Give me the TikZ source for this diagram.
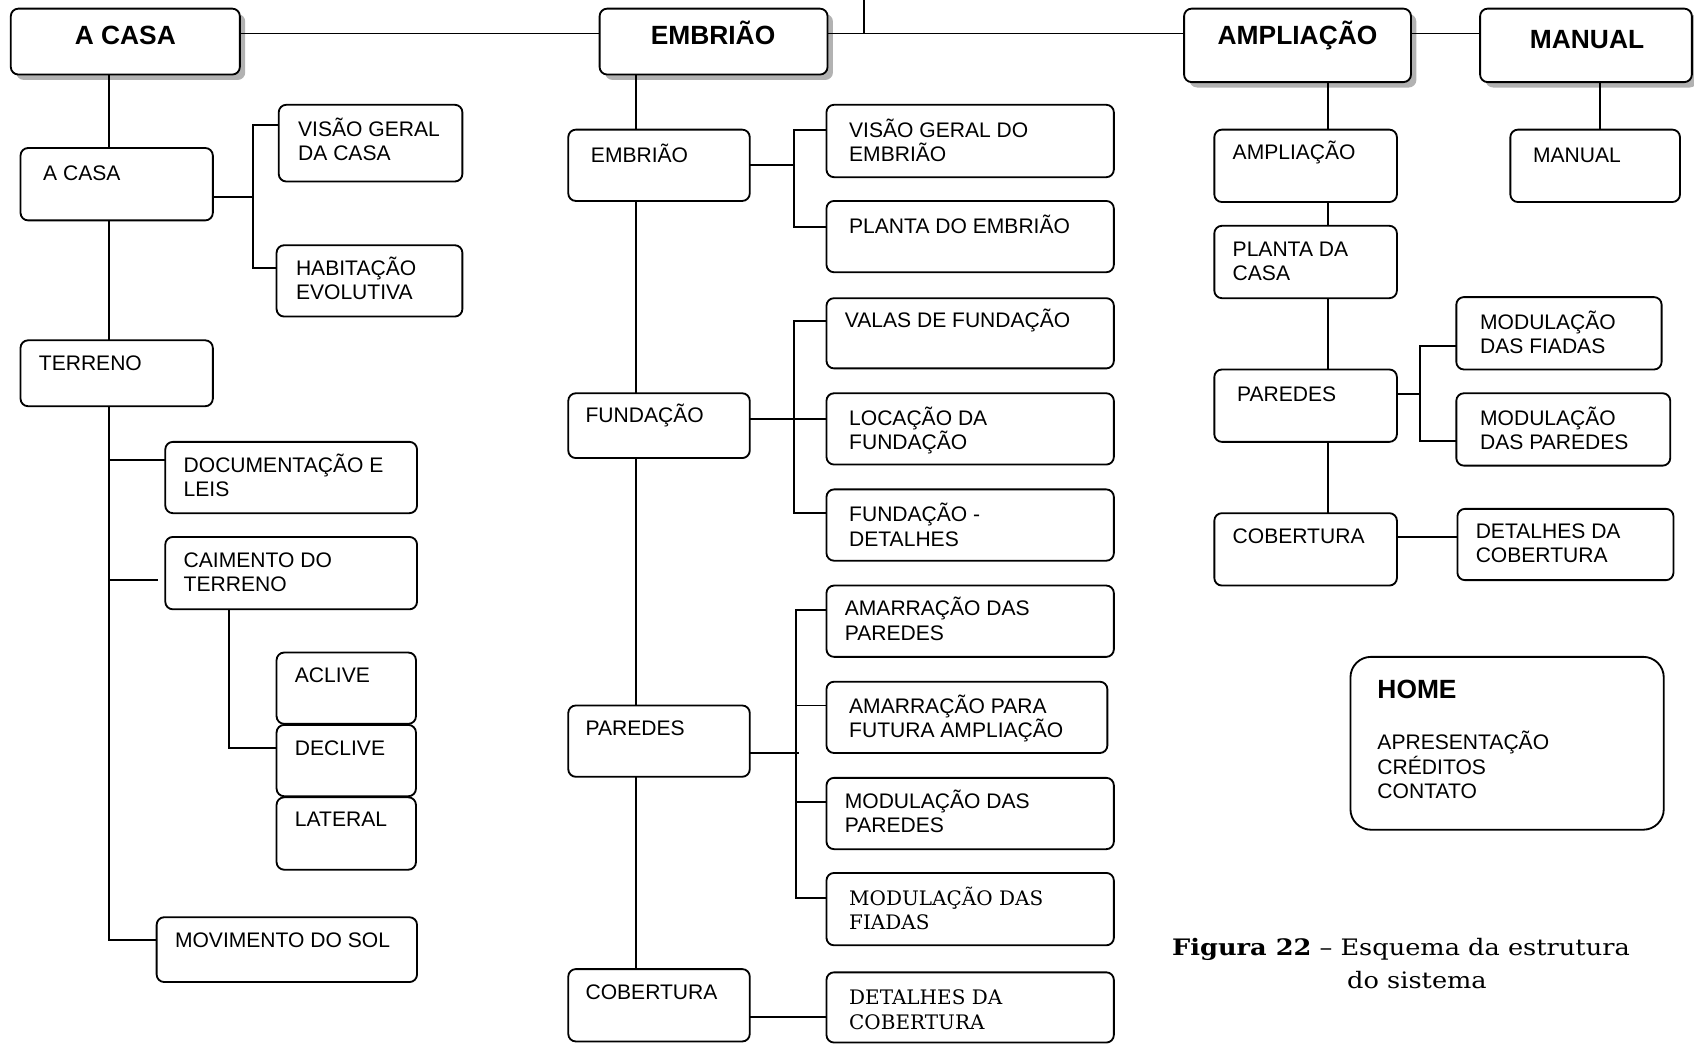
\documentclass[tikz,border=0pt]{standalone}
\usepackage{fontspec}
\setmainfont{Liberation Sans}
\newfontfamily\serifbox{DejaVu Serif}
\newfontfamily\capfont[FakeStretch=1.13]{DejaVu Serif}
\tikzset{
 bx/.style={draw, line width=1.7pt, rounded corners=7pt, inner sep=0pt, outer sep=0pt, anchor=north west, fill=white},
 txt/.style={anchor=north west, inner sep=0pt, outer sep=0pt, align=left, font=\fontsize{19.5}{22.5}\selectfont},
 txts/.style={txt, font=\serifbox\fontsize{18.5}{22.5}\selectfont},
 ttl/.style={anchor=base, inner sep=0pt, outer sep=0pt, font=\bfseries\fontsize{24.4}{28}\selectfont},
 con/.style={line width=1.8pt},
 shd/.style={fill=black!30, rounded corners=7pt},
 capt/.style={anchor=base west, inner sep=0pt, outer sep=0pt, font=\capfont\fontsize{21}{24}\selectfont},
}
% [style]{name}{x1}{y1}{x2}{y2}{text x}{baseline}{text}
\newcommand\bxx[9][txt]{%
  \node[bx, minimum width={#5-#3}, minimum height={#6-#4}] (#2) at (#3,#4) {};
  \node[#1] (#2t) at (#7,#8-20) {\rule{0pt}{20pt}#9};
}
% {name}{x1}{y1}{x2}{y2}{cx}{baseline}{text}
\newcommand\bigbx[8]{%
  \fill[shd] (#2+5,#3+5) rectangle (#4+5,#5+5);
  \node[bx, minimum width={#4-#2}, minimum height={#5-#3}] (#1) at (#2,#3) {};
  \node[ttl] (#1t) at (#6,#7) {#8};
}
\begin{document}
\begin{tikzpicture}[x=1pt,y=-1pt]
\useasboundingbox (0,0) rectangle (1568,966);

% top level
\bigbx{acasaB}{10}{8}{222}{69}{116}{41}{A CASA}
\bigbx{embB}{555}{8}{766}{69}{660}{41}{EMBRIÃO}
\bigbx{ampB}{1096}{8}{1306}{76}{1201}{41}{AMPLIAÇÃO}
\bigbx{manB}{1370}{8}{1566}{76}{1469}{45}{MANUAL}

% left column
\bxx{acasa}{19}{137}{197}{204}{40}{167}{A CASA}
\bxx{visC}{258}{97}{428}{168}{276}{126}{VISÃO GERAL\\DA CASA}
\bxx{habit}{256}{227}{428}{293}{274}{255}{HABITAÇÃO\\EVOLUTIVA}
\bxx{terreno}{19}{315}{197}{376}{36}{343}{TERRENO}
\bxx{doc}{153}{409}{386}{475}{170}{437}{DOCUMENTAÇÃO E\\LEIS}
\bxx{caim}{153}{497}{386}{564}{170}{525}{CAIMENTO DO\\TERRENO}
\bxx{acl}{256}{604}{385}{670}{273}{632}{ACLIVE}
\bxx{decl}{256}{671}{385}{737}{273}{699}{DECLIVE}
\bxx{lat}{256}{738}{385}{805}{273}{765}{LATERAL}
\bxx{movsol}{145}{849}{386}{909}{162}{877}{MOVIMENTO DO SOL}

% middle column
\bxx{emb}{526}{120}{694}{186}{547}{150}{EMBRIÃO}
\bxx{visE}{765}{97}{1031}{164}{786}{127}{VISÃO GERAL DO\\EMBRIÃO}
\bxx{plE}{765}{186}{1031}{252}{786}{216}{PLANTA DO EMBRIÃO}
\bxx{fund}{526}{364}{694}{424}{542}{391}{FUNDAÇÃO}
\bxx{valas}{765}{276}{1031}{341}{782}{303}{VALAS DE FUNDAÇÃO}
\bxx{loc}{765}{364}{1031}{430}{786}{394}{LOCAÇÃO DA\\FUNDAÇÃO}
\bxx{fdet}{765}{453}{1031}{519}{786}{483}{FUNDAÇÃO -\\DETALHES}
\bxx{par}{526}{653}{694}{719}{542}{681}{PAREDES}
\bxx{amDas}{765}{542}{1031}{608}{782}{570}{AMARRAÇÃO DAS\\PAREDES}
\bxx{amPara}{765}{631}{1025}{697}{786}{660}{AMARRAÇÃO PARA\\FUTURA AMPLIAÇÃO}
\bxx{modPar}{765}{720}{1031}{786}{782}{748}{MODULAÇÃO DAS\\PAREDES}
\bxx[txts]{modFi}{765}{808}{1031}{875}{786}{838}{MODULAÇÃO DAS\\FIADAS}
\bxx{cob}{526}{897}{694}{964}{542}{925}{COBERTURA}
\bxx[txts]{detCob}{765}{900}{1031}{965}{786}{930}{DETALHES DA\\COBERTURA}

% right column
\bxx{amp}{1124}{120}{1293}{187}{1141}{148}{AMPLIAÇÃO}
\bxx{plCasa}{1124}{209}{1293}{276}{1141}{237}{PLANTA DA\\CASA}
\bxx{parR}{1124}{342}{1293}{409}{1145}{372}{PAREDES}
\bxx{cobR}{1124}{475}{1293}{542}{1141}{503}{COBERTURA}
\bxx{mfR}{1348}{275}{1538}{342}{1370}{305}{MODULAÇÃO\\DAS FIADAS}
\bxx{mpR}{1348}{364}{1546}{431}{1370}{394}{MODULAÇÃO\\DAS PAREDES}
\bxx{detR}{1349}{471}{1549}{537}{1366}{498}{DETALHES DA\\COBERTURA}
\bxx{man}{1398}{120}{1555}{187}{1419}{150}{MANUAL}

% home
\node[bx, rounded corners=19pt, minimum width={1540-1250}, minimum height={768-608}] (home) at (1250,608) {};
\node[ttl, anchor=base west] (homet) at (1275,647) {HOME};
\node[txt] (homel) at (1275,694-20) {\rule{0pt}{20pt}APRESENTAÇÃO\\CRÉDITOS\\CONTATO};

% caption
\node[capt] (cap1) at (1085,884) {\textbf{Figura 22} – Esquema da estrutura};
\node[capt] (cap2) at (1247,915) {do sistema};

% helper coordinates
\coordinate (yTop) at (0,31);
\coordinate (topend) at (800,0);
\coordinate (xL) at (101,0);
\coordinate (xM) at (589,0);
\coordinate (xR) at (1229,0);
\coordinate (xMan) at (1481,0);
\coordinate (a0) at (234,182);
\coordinate (a1) at (234,116);
\coordinate (a2) at (234,248);
\coordinate (jdoc) at (101,426);
\coordinate (jcaim) at (101,537);
\coordinate (jcaimE) at (146,537);
\coordinate (jmov) at (101,870);
\coordinate (jdec) at (212,692);
\coordinate (b0) at (735,153);
\coordinate (b1) at (735,120);
\coordinate (b2) at (735,210);
\coordinate (c0) at (735,388);
\coordinate (c1) at (735,297);
\coordinate (c2) at (735,475);
\coordinate (d0) at (740,697);
\coordinate (d1) at (737,565);
\coordinate (d2) at (737,653);
\coordinate (d3) at (737,742);
\coordinate (d4) at (737,831);
\coordinate (e0) at (0,941);
\coordinate (f0) at (1314,365);
\coordinate (f1) at (1314,320);
\coordinate (f2) at (1314,408);
\coordinate (g0) at (0,497);

% top connectors
\draw[con] (acasaB.east |- yTop) -- (embB.west |- yTop);
\draw[con] (embB.east |- yTop) -- (ampB.west |- yTop);
\draw[con] (ampB.east |- yTop) -- (manB.west |- yTop);
\draw[con] (topend) -- (topend |- yTop);

% left connectors
\draw[con] (acasaB.south -| xL) -- (acasa.north -| xL);
\draw[con] (acasa.south -| xL) -- (terreno.north -| xL);
\draw[con] (terreno.south -| xL) -- (jmov) -- (movsol.west |- jmov);
\draw[con] (acasa.east |- a0) -- (a0);
\draw[con] (visC.west |- a1) -- (a1) -- (a2) -- (habit.west |- a2);
\draw[con] (jdoc) -- (doc.west |- jdoc);
\draw[con] (jcaim) -- (jcaimE);
\draw[con] (caim.south -| jdec) -- (jdec) -- (decl.west |- jdec);

% middle connectors
\draw[con] (embB.south -| xM) -- (emb.north -| xM);
\draw[con] (emb.south -| xM) -- (fund.north -| xM);
\draw[con] (fund.south -| xM) -- (par.north -| xM);
\draw[con] (par.south -| xM) -- (cob.north -| xM);
\draw[con] (emb.east |- b0) -- (b0);
\draw[con] (visE.west |- b1) -- (b1) -- (b2) -- (plE.west |- b2);
\draw[con] (fund.east |- c0) -- (loc.west |- c0);
\draw[con] (valas.west |- c1) -- (c1) -- (c2) -- (fdet.west |- c2);
\draw[con] (par.east |- d0) -- (d0);
\draw[con] (amDas.west |- d1) -- (d1) -- (d4) -- (modFi.west |- d4);
\draw[con] (d2) -- (amPara.west |- d2);
\draw[con] (d3) -- (modPar.west |- d3);
\draw[con] (cob.east |- e0) -- (detCob.west |- e0);

% right connectors
\draw[con] (ampB.south -| xR) -- (amp.north -| xR);
\draw[con] (amp.south -| xR) -- (plCasa.north -| xR);
\draw[con] (plCasa.south -| xR) -- (parR.north -| xR);
\draw[con] (parR.south -| xR) -- (cobR.north -| xR);
\draw[con] (parR.east |- f0) -- (f0);
\draw[con] (mfR.west |- f1) -- (f1) -- (f2) -- (mpR.west |- f2);
\draw[con] (cobR.east |- g0) -- (detR.west |- g0);
\draw[con] (manB.south -| xMan) -- (man.north -| xMan);
\end{tikzpicture}
\end{document}
